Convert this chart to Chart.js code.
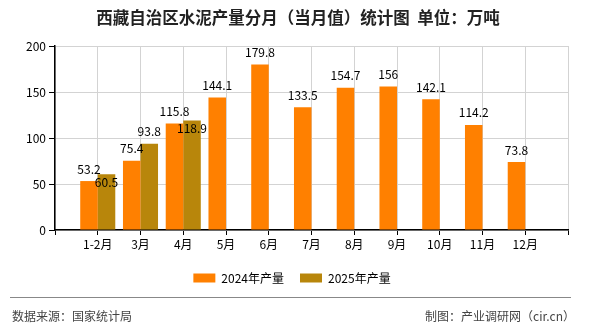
<!DOCTYPE html>
<html>
<head>
<meta charset="utf-8">
<script src="https://cdn.jsdelivr.net/npm/chart.js@4"></script>
<style>
  body { margin: 0; background: #fff; }
  #wrap { position: relative; width: 590px; height: 330px; font-family: "Noto Sans CJK SC", sans-serif; }
  #title { position: absolute; left: 0; top: 6px; width: 596px; text-align: center; font-size: 16.5px; font-weight: bold; color: #222; line-height: 22px; white-space: nowrap; }
  #footLine { position: absolute; left: 10px; top: 297px; width: 561px; height: 0; border-top: 1.5px solid #888; }
  .foot { position: absolute; top: 307px; font-size: 12px; color: #444; line-height: 17px; white-space: nowrap; }
  #src { left: 12px; }
  #maker { right: 15px; }
</style>
</head>
<body>
<div id="wrap">
  <canvas id="myChart" width="590" height="330"></canvas>
  <div id="title">西藏自治区水泥产量分月（当月值）统计图&nbsp;&nbsp;单位：万吨</div>
  <div id="footLine"></div>
  <div class="foot" id="src">数据来源：国家统计局</div>
  <div class="foot" id="maker">制图：产业调研网（cir.cn）</div>
</div>
<script>
'use strict';
//--------------------DATA

const months = ['1-2月', '3月', '4月', '5月', '6月', '7月', '8月', '9月', '10月', '11月', '12月'];
const output2024 = [53.2, 75.4, 115.8, 144.1, 179.8, 133.5, 154.7, 156, 142.1, 114.2, 73.8];
const output2025 = [60.5, 93.8, 118.9, null, null, null, null, null, null, null, null];
const yTicks = [0, 50, 100, 150, 200];

// blank slot on each side so the months sit on the grid lines
const labels = [''].concat(months, ['']);

function padded(arr) {
  return [null].concat(arr, [null]);
}

//--------------------PLUGINS

// value labels above the bars, 2025 label drops inside its bar when it would hit the 2024 one
const valueLabels = {
  id: 'valueLabels',
  afterDatasetsDraw(chart) {
    const ctx = chart.ctx;
    ctx.save();
    ctx.font = '12px "Noto Sans CJK SC"';
    ctx.fillStyle = '#000';
    ctx.textAlign = 'center';
    ctx.textBaseline = 'middle';
    const meta0 = chart.getDatasetMeta(0);
    const meta1 = chart.getDatasetMeta(1);
    const data0 = chart.data.datasets[0].data;
    const data1 = chart.data.datasets[1].data;
    for (let i = 0; i < labels.length; i++) {
      let y0 = null;
      if (data0[i] !== null) {
        const bar = meta0.data[i];
        y0 = bar.y - 12;
        ctx.fillText(String(data0[i]), bar.x, y0);
      }
      if (data1[i] !== null) {
        const bar = meta1.data[i];
        let y1 = bar.y - 12;
        if (y0 !== null && Math.abs(y1 - y0) < 13) {
          y1 = bar.y + 8;
        }
        ctx.fillText(String(data1[i]), bar.x, y1);
      }
    }
    ctx.restore();
  }
};

// legend sits a little right of the plot centre in the original
const legendShift = {
  id: 'legendShift',
  afterLayout(chart) {
    chart.legend.left += 8;
    chart.legend.right += 8;
  }
};

//--------------------CHART

const data = {
  labels: labels,
  datasets: [
    {
      label: '2024年产量',
      backgroundColor: '#FF8000',
      borderWidth: 0,
      data: padded(output2024),
    },
    {
      label: '2025年产量',
      backgroundColor: '#B8860B',
      borderWidth: 0,
      data: padded(output2025),
    },
  ],
};

const config = {
  type: 'bar',
  data: data,
  plugins: [valueLabels, legendShift],
  options: {
    responsive: false,
    devicePixelRatio: 1,
    animation: false,
    categoryPercentage: 0.82,
    barPercentage: 1,
    layout: { padding: { left: 0, right: 22, top: 46, bottom: 36 } },
    plugins: {
      title: { display: false },
      legend: {
        position: 'bottom',
        labels: {
          boxWidth: 22,
          boxHeight: 9,
          padding: 16,
          color: '#000',
          font: { family: '"Noto Sans CJK SC"', size: 12 },
        },
      },
      tooltip: { enabled: false },
    },
    scales: {
      x: {
        offset: false,
        grid: { color: '#d3d3d3', tickColor: '#000', tickLength: 5, offset: false },
        border: { color: '#000', width: 1.5 },
        ticks: {
          autoSkip: false,
          maxRotation: 0,
          padding: 2,
          color: '#000',
          font: { family: '"Noto Sans CJK SC"', size: 12 },
        },
        afterFit(scale) { scale.height = 26; },
      },
      y: {
        min: 0,
        max: 200,
        grid: { color: '#d3d3d3', tickColor: '#000', tickLength: 6 },
        border: { color: '#000', width: 1.5 },
        afterBuildTicks(scale) { scale.ticks = yTicks.map(v => ({ value: v })); },
        ticks: {
          padding: 3,
          color: '#000',
          font: { family: '"Noto Sans CJK SC"', size: 12 },
        },
        afterFit(scale) { scale.width = 55; },
      },
    },
  },
};

const myChart = new Chart(document.getElementById('myChart'), config);
</script>
</body>
</html>
